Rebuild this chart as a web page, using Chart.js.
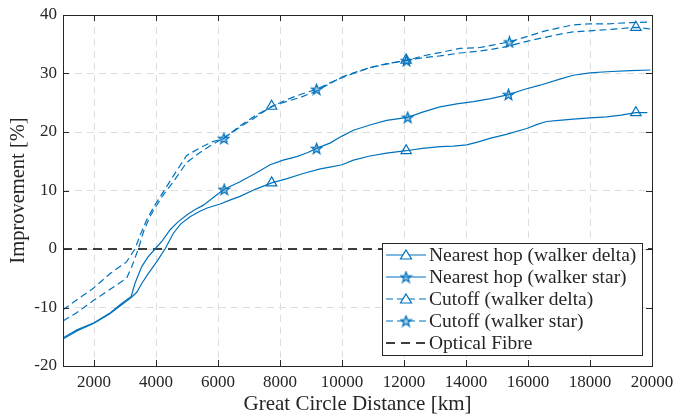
<!DOCTYPE html>
<html>
<head>
<meta charset="utf-8">
<script src="https://cdn.jsdelivr.net/npm/chart.js@4.4.1/dist/chart.umd.min.js"></script>
<style>
  html, body { margin: 0; padding: 0; background: #fff; }
  #wrap { width: 674px; height: 417px; }
</style>
</head>
<body>
<div id="wrap"><canvas id="improvement"></canvas></div>
<script>
// distances (km) and improvement (%)
var nhDeltaX = [1000, 1450, 2000, 2500, 2850, 3200, 3380, 3540, 3750, 4020, 4290, 4560, 4800, 5100, 5400, 5650, 6070, 6400, 6710, 7200, 7730, 8200, 8750, 9300, 9610, 10000, 10370, 10900, 11440, 12070, 12600, 13160, 13600, 14020, 14400, 14770, 15300, 15960, 16300, 16600, 17000, 17460, 18000, 18540, 19000, 19480, 19850];
var nhDeltaY = [-15.4, -14.0, -12.7, -11.1, -9.7, -8.3, -7.4, -5.9, -4.2, -2.2, 0, 2.7, 4.3, 5.5, 6.4, 7.0, 7.7, 8.4, 9.0, 10.2, 11.3, 12.0, 12.9, 13.7, 14.0, 14.4, 15.2, 15.9, 16.4, 16.8, 17.2, 17.5, 17.6, 17.8, 18.3, 18.9, 19.6, 20.6, 21.3, 21.8, 22.0, 22.2, 22.4, 22.6, 22.9, 23.3, 23.3];

var nhStarX = [1000, 1450, 2000, 2500, 2850, 3200, 3320, 3540, 3750, 3970, 4200, 4450, 4700, 4990, 5250, 5530, 5900, 6200, 6710, 7200, 7680, 8100, 8540, 8900, 9180, 9610, 10000, 10370, 10900, 11440, 12120, 12600, 13160, 13700, 14240, 14800, 15370, 15900, 16390, 17000, 17460, 18000, 18540, 19300, 19950];
var nhStarY = [-15.2, -13.8, -12.6, -11.0, -9.5, -8.1, -5.9, -3.0, -1.3, 0, 1.4, 3.25, 4.6, 5.8, 6.7, 7.5, 9.0, 10.2, 11.5, 12.9, 14.4, 15.2, 15.8, 16.5, 17.2, 18.1, 19.3, 20.3, 21.2, 22.0, 22.5, 23.4, 24.3, 24.8, 25.2, 25.7, 26.4, 27.3, 28.0, 29.0, 29.7, 30.1, 30.3, 30.5, 30.6];

var coDeltaX = [1000, 1440, 1980, 2520, 3050, 3220, 3430, 3600, 3800, 4000, 4240, 4560, 4990, 5420, 5800, 6190, 6700, 7200, 7730, 8200, 8700, 9180, 9610, 10000, 10370, 10900, 11440, 12070, 12600, 13160, 13800, 14400, 14900, 15310, 15960, 16390, 17000, 17450, 18000, 18600, 19480, 19950];
var coDeltaY = [-12.3, -10.9, -8.8, -6.9, -5.0, -3.0, 0, 3.0, 5.5, 7.3, 9.3, 11.5, 14.8, 16.5, 17.8, 19.0, 20.8, 22.5, 24.4, 25.2, 26.0, 27.0, 28.3, 29.4, 30.1, 31.0, 31.6, 32.3, 32.7, 33.0, 33.5, 33.8, 34.2, 34.6, 35.5, 36.0, 36.7, 37.1, 37.3, 37.5, 37.9, 37.6];

var coStarX = [1000, 1440, 1980, 2520, 3050, 3320, 3500, 3700, 3950, 4240, 4560, 4990, 5420, 5800, 6190, 6700, 7200, 7700, 8200, 8700, 9180, 9610, 10000, 10370, 10900, 11440, 12080, 12600, 13200, 13800, 14400, 14900, 15400, 15960, 16500, 17000, 17450, 18000, 18600, 19300, 19950];
var coStarY = [-10.4, -8.7, -6.7, -4.2, -2.2, 0, 2.5, 5.0, 7.4, 9.8, 12.5, 16.0, 17.3, 18.3, 18.9, 21.0, 22.8, 24.2, 25.5, 26.5, 27.3, 28.4, 29.3, 30.0, 31.0, 31.7, 32.2, 33.0, 33.6, 34.3, 34.4, 34.9, 35.4, 36.3, 37.2, 37.8, 38.3, 38.5, 38.5, 38.7, 38.8];

// where the markers sit
var nhDeltaMarks = [7730, 12070, 19480];
var nhStarMarks = [6200, 9180, 12120, 15370];
var coDeltaMarks = [7730, 12070, 19480];
var coStarMarks = [6190, 9180, 12080, 15400];

var fibreX = [1000, 20000];
var fibreY = [0, 0];

var xTicks = [2000, 4000, 6000, 8000, 10000, 12000, 14000, 16000, 18000, 20000];
var yTicks = [-20, -10, 0, 10, 20, 30, 40];

var blue = '#0072BD';
var ink = '#262626';
var serif = "'Liberation Serif', 'DejaVu Serif', serif";

function pts(xs, ys) {
	var out = [];
	for (var i = 0; i < xs.length; i++) out.push({x: xs[i], y: ys[i]});
	return out;
}

function makeStar(size, color) {
	var c = document.createElement('canvas');
	c.width = size; c.height = size;
	var g = c.getContext('2d');
	var cx = size / 2, cy = size / 2 + 0.5, R = size / 2 - 1, r = R * 0.42;
	g.beginPath();
	for (var i = 0; i < 10; i++) {
		var ang = -Math.PI / 2 + i * Math.PI / 5;
		var rad = (i % 2) ? r : R;
		g.lineTo(cx + rad * Math.cos(ang), cy + rad * Math.sin(ang));
	}
	g.closePath();
	g.fillStyle = 'rgba(0,114,189,0.35)';
	g.fill();
	g.strokeStyle = color;
	g.lineWidth = 1.3;
	g.stroke();
	return c;
}
var starImg = makeStar(13, blue);

function series(label, xs, ys, marks, style, dashed) {
	return {
		label: label,
		data: pts(xs, ys),
		borderColor: blue,
		backgroundColor: 'rgba(0,0,0,0)',
		borderWidth: 1.2,
		borderDash: dashed ? [7, 4] : [],
		tension: 0,
		pointStyle: style,
		pointBorderColor: blue,
		pointBackgroundColor: 'rgba(0,0,0,0)',
		pointBorderWidth: 1.2,
		pointRadius: function(c) {
			return marks.indexOf(c.raw.x) >= 0 ? 6 : 0;
		},
		pointHoverRadius: 0
	};
}

var boxPlugin = {
	id: 'boxPlugin',
	afterDraw: function(chart) {
		var ctx = chart.ctx, a = chart.chartArea;
		var xs = chart.scales.x, ys = chart.scales.y;
		ctx.save();
		ctx.strokeStyle = ink;
		ctx.lineWidth = 1;
		ctx.setLineDash([]);
		ctx.strokeRect(Math.round(a.left) + 0.5, Math.round(a.top) + 0.5, Math.round(a.right - a.left), Math.round(a.bottom - a.top));
		// inward ticks on all four sides
		ctx.beginPath();
		xTicks.forEach(function(v) {
			var px = Math.round(xs.getPixelForValue(v)) + 0.5;
			ctx.moveTo(px, a.bottom); ctx.lineTo(px, a.bottom - 6);
			ctx.moveTo(px, a.top); ctx.lineTo(px, a.top + 6);
		});
		yTicks.forEach(function(v) {
			var py = Math.round(ys.getPixelForValue(v)) + 0.5;
			ctx.moveTo(a.left, py); ctx.lineTo(a.left + 6, py);
			ctx.moveTo(a.right, py); ctx.lineTo(a.right - 6, py);
		});
		ctx.stroke();

		// legend box, bottom right inside the axes
		var sets = chart.data.datasets;
		ctx.font = '19.5px ' + serif;
		var maxW = 0;
		sets.forEach(function(d) { maxW = Math.max(maxW, ctx.measureText(d.label).width); });
		var rowH = 22, sample = 40;
		var w = 4 + sample + 3 + maxW + 6;
		var h = sets.length * rowH + 2;
		var right = a.right - 10, bottom = a.bottom - 11;
		var left = Math.round(right - w), top = Math.round(bottom - h);
		ctx.fillStyle = '#fff';
		ctx.fillRect(left, top, w, h);
		ctx.strokeStyle = ink;
		ctx.lineWidth = 1;
		ctx.strokeRect(left + 0.5, top + 0.5, Math.round(w), Math.round(h));
		sets.forEach(function(d, i) {
			var cy = top + 12 + i * rowH;
			var x0 = left + 4, x1 = x0 + sample;
			ctx.beginPath();
			ctx.strokeStyle = d.borderColor;
			ctx.lineWidth = d.borderWidth;
			ctx.setLineDash(d.borderDash || []);
			ctx.moveTo(x0, cy); ctx.lineTo(x1, cy);
			ctx.stroke();
			ctx.setLineDash([]);
			var mx = (x0 + x1) / 2;
			if (d.pointStyle === 'triangle') {
				ctx.beginPath();
				ctx.fillStyle = '#fff';
				ctx.moveTo(mx, cy - 5); ctx.lineTo(mx + 5.5, cy + 4); ctx.lineTo(mx - 5.5, cy + 4);
				ctx.closePath();
				ctx.fill();
				ctx.strokeStyle = blue; ctx.lineWidth = 1.2;
				ctx.stroke();
			} else if (d.pointStyle === starImg) {
				ctx.drawImage(starImg, mx - 6.5, cy - 6.5);
			}
			ctx.fillStyle = ink;
			ctx.textBaseline = 'middle';
			ctx.textAlign = 'left';
			ctx.fillText(d.label, x1 + 3, cy + 1);
		});
		ctx.restore();
	}
};

function plain(v) { return String(v); }

var ctx = document.getElementById('improvement');
var chart = new Chart(ctx, {
	type: 'line',
	data: {
		datasets: [
			series('Nearest hop (walker delta)', nhDeltaX, nhDeltaY, nhDeltaMarks, 'triangle', false),
			series('Nearest hop (walker star)', nhStarX, nhStarY, nhStarMarks, starImg, false),
			series('Cutoff (walker delta)', coDeltaX, coDeltaY, coDeltaMarks, 'triangle', true),
			series('Cutoff (walker star)', coStarX, coStarY, coStarMarks, starImg, true),
			{
				label: 'Optical Fibre',
				data: pts(fibreX, fibreY),
				borderColor: '#000',
				borderWidth: 1.6,
				borderDash: [9, 6],
				pointRadius: 0,
				tension: 0
			}
		]
	},
	options: {
		responsive: true,
		maintainAspectRatio: false,
		animation: false,
		layout: { padding: { top: 15, right: 22, left: 0, bottom: 0 } },
		plugins: {
			legend: { display: false },
			tooltip: { enabled: false }
		},
		scales: {
			x: {
				type: 'linear',
				min: 1000,
				max: 20000,
				afterBuildTicks: function(s) { s.ticks = xTicks.map(function(v) { return {value: v}; }); },
				afterFit: function(s) { s.height = 51; s.paddingRight = 0; s.paddingLeft = 0; },
				grid: { color: '#dedede', lineWidth: 1, drawTicks: false },
				border: { display: false, dash: [7, 5] },
				ticks: { color: ink, font: { family: serif, size: 17 }, padding: 6, maxRotation: 0, autoSkip: false, callback: plain },
				title: { display: true, text: 'Great Circle Distance [km]', color: ink, font: { family: serif, size: 21 }, padding: { top: 0, bottom: 0 } }
			},
			y: {
				min: -20,
				max: 40,
				afterBuildTicks: function(s) { s.ticks = yTicks.map(function(v) { return {value: v}; }); },
				afterFit: function(s) { s.width = 63; s.paddingTop = 0; s.paddingBottom = 0; },
				grid: { color: '#dedede', lineWidth: 1, drawTicks: false },
				border: { display: false, dash: [7, 5] },
				ticks: { color: ink, font: { family: serif, size: 17 }, padding: 6, callback: plain },
				title: { display: true, text: 'Improvement [%]', color: ink, font: { family: serif, size: 20.5 }, padding: { top: 6, bottom: 0 } }
			}
		}
	},
	plugins: [boxPlugin]
});
</script>
</body>
</html>
